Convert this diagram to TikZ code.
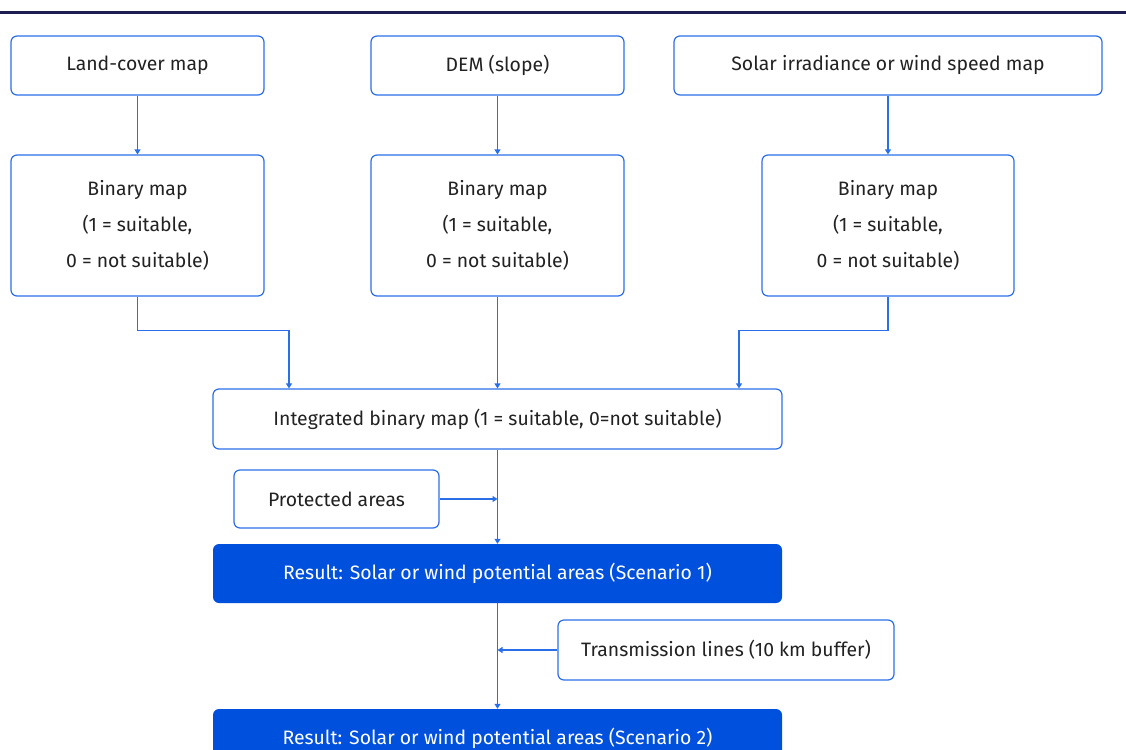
\documentclass[tikz,border=0pt]{standalone}
\usepackage{fontspec}
\setmainfont{Fira Sans}
\usetikzlibrary{arrows.meta,calc}
\definecolor{boxblue}{HTML}{2A6FE8}
\definecolor{resblue}{HTML}{0050DE}
\definecolor{topnavy}{HTML}{1E1E50}
\definecolor{txt}{HTML}{222222}
\begin{document}
\begin{tikzpicture}[x=1pt, y=-1pt,
  every node/.style={font=\fontsize{19.4}{36}\selectfont, text=txt, align=center},
  stepbox/.style={draw=boxblue, line width=1.2pt, rounded corners=6pt, fill=white, minimum height=59pt},
  resbox/.style={fill=resblue, rounded corners=6pt, minimum width=569pt, minimum height=59pt, text=white},
  arr/.style={draw=boxblue, line width=1.2pt, -{Triangle[width=6pt,length=5pt]}}]
\useasboundingbox (0,0) rectangle (1126,749);
\draw[topnavy, line width=2.5pt] (0,12.5)--(1126,12.5);
% inputs
\node[stepbox, minimum width=253pt] (landcover) at (137.5,65.5) {Land-cover map};
\node[stepbox, minimum width=253pt] (dem) at (497.5,65.5) {DEM (slope)};
\node[stepbox, minimum width=428pt] (solar) at (888,65.5) {Solar irradiance or wind speed map};
% binary maps
\node[stepbox, minimum width=253pt, minimum height=141pt] (binlc) at (137.5,225.5) {Binary map\\(1 = suitable,\\0 = not suitable)};
\node[stepbox, minimum width=253pt, minimum height=141pt] (bindem) at (497.5,225.5) {Binary map\\(1 = suitable,\\0 = not suitable)};
\node[stepbox, minimum width=252pt, minimum height=141pt] (binsolar) at (888,225.5) {Binary map\\(1 = suitable,\\0 = not suitable)};
% integration
\node[stepbox, minimum width=569pt, minimum height=60pt] (integ) at (497.5,419) {Integrated binary map (1 = suitable, 0=not suitable)};
\node[stepbox, minimum width=205pt, minimum height=58pt] (protected) at (336.5,499) {Protected areas};
\node[resbox] (res1) at (497.5,573.5) {Result: Solar or wind potential areas (Scenario 1)};
\node[stepbox, minimum width=336pt, minimum height=60pt] (trans) at (726,650) {Transmission lines (10 km buffer)};
\node[resbox] (res2) at (497.5,738.5) {Result: Solar or wind potential areas (Scenario 2)};
% connectors
\draw[arr] (landcover) -- (binlc);
\draw[arr] (dem) -- (bindem);
\draw[arr] (solar) -- (binsolar);
\draw[arr] (binlc.south) -- ++(0,34) -| ($(integ.north)+(-208.5,0)$);
\draw[arr] (bindem) -- (integ);
\draw[arr] (binsolar.south) -- ++(0,34) -| ($(integ.north)+(241.5,0)$);
\draw[arr] (integ) -- (res1);
\draw[arr] (protected.east) -- (protected.east -| integ.south);
\draw[arr] (res1) -- (res2);
\draw[arr] (trans.west) -- (trans.west -| res1.south);
\end{tikzpicture}
\end{document}
